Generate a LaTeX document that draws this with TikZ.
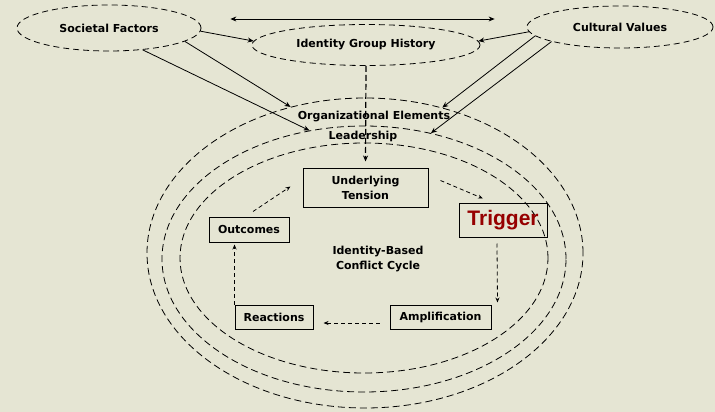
\documentclass[tikz,border=0pt]{standalone}
\usepackage{fontspec}
\setmainfont{DejaVu Sans}
\newfontfamily\trigfont{Liberation Sans}
\usetikzlibrary{shapes.geometric, arrows.meta, positioning, calc}
\definecolor{bgcream}{RGB}{229,229,211}
\definecolor{trigred}{RGB}{150,0,0}

\begin{document}
\begin{tikzpicture}[
    x=1pt, y=-1pt,
    font=\fontsize{11}{15}\selectfont\bfseries,
    oval/.style={ellipse, draw, dash pattern=on 6pt off 4pt, line width=0.8pt, inner sep=0pt},
    ring/.style={ellipse, draw, dash pattern=on 7pt off 4pt, line width=0.8pt, inner sep=0pt},
    box/.style={rectangle, draw, line width=1pt, inner sep=0pt, align=center},
    arrow/.style={-{Stealth[length=6pt, width=5pt]}, line width=0.8pt},
    cycarrow/.style={-{Stealth[length=5pt, width=4pt]}, dash pattern=on 4pt off 3pt, line width=0.8pt}
]
\fill[bgcream] (0,0) rectangle (715,412);
\useasboundingbox (0,0) rectangle (715,412);

% nested context rings
\node[ring, minimum width=436pt, minimum height=310pt] (outer) at (365,253) {};
\node[ring, minimum width=404pt, minimum height=266pt] (mid) at (364,259) {};
\node[ring, minimum width=368pt, minimum height=230pt] (inner) at (364,258) {};

% outside factors
\node[oval, minimum width=184pt, minimum height=46pt] (soc) at (109,28) {\raisebox{-3pt}{Societal Factors}};
\node[oval, minimum width=186pt, minimum height=42pt] (cult) at (620,27) {\raisebox{-3pt}{Cultural Values}};
\node[oval, minimum width=228pt, minimum height=41pt] (igh) at (366,45) {\raisebox{-4pt}{Identity Group History}};

\node (org) at (374,117) {Organizational Elements};
\node (lead) at (363,136) {Leadership};
\node[align=center] (cycle) at (378,259) {Identity-Based\\Conflict Cycle};

% cycle boxes
\node[box, minimum width=125pt, minimum height=39pt] (ut) at (365.5,187.5) {Underlying\\Tension};
\node[box, minimum width=88pt, minimum height=34pt, font=\trigfont\fontsize{21}{23}\selectfont\bfseries, text=trigred] (trig) at (503,220) {Trigger};
\node[box, minimum width=101pt, minimum height=24pt] (amp) at (440.5,317) {Amplification};
\node[box, minimum width=78pt, minimum height=24pt] (rea) at (274,317) {Reactions};
\node[box, minimum width=80pt, minimum height=25pt] (out) at (249,229.5) {Outcomes};

% influences
\draw[{Stealth[length=6pt, width=5pt]}-{Stealth[length=6pt, width=5pt]}, line width=0.8pt] ([xshift=29pt, yshift=9pt]soc.east) -- ([xshift=-32pt, yshift=8pt]cult.west);
\draw[arrow] (soc.-2) -- (igh.178);
\draw[arrow] (soc.-10) -- (outer.117);
\draw[arrow] (soc.-33) -- (mid.113.5);
\draw[arrow] (cult.183) -- (igh.2);
\draw[arrow] (cult.186) -- (outer.62);
\draw[arrow] (cult.192) -- (mid.62);
\draw[arrow, line width=1.2pt, dash pattern=on 6pt off 3pt, shorten >=6pt] (igh.south) -- (ut.north);

% the cycle
\draw[cycarrow] ([xshift=12pt, yshift=7pt]ut.east) -- ([xshift=-20pt, yshift=4pt]trig.north);
\draw[cycarrow] ([xshift=-6pt, yshift=-6pt]trig.south) -- ([xshift=6pt, yshift=2pt]amp.north east);
\draw[cycarrow] ([xshift=-10pt, yshift=-6pt]amp.west) -- ([xshift=10pt, yshift=-6pt]rea.east);
\draw[cycarrow, shorten >=2pt] (rea.north west) -- (rea.north west |- out.south);
\draw[cycarrow] ([xshift=4pt, yshift=5pt]out.north) -- ([xshift=-12pt, yshift=1pt]ut.west);
\end{tikzpicture}
\end{document}
